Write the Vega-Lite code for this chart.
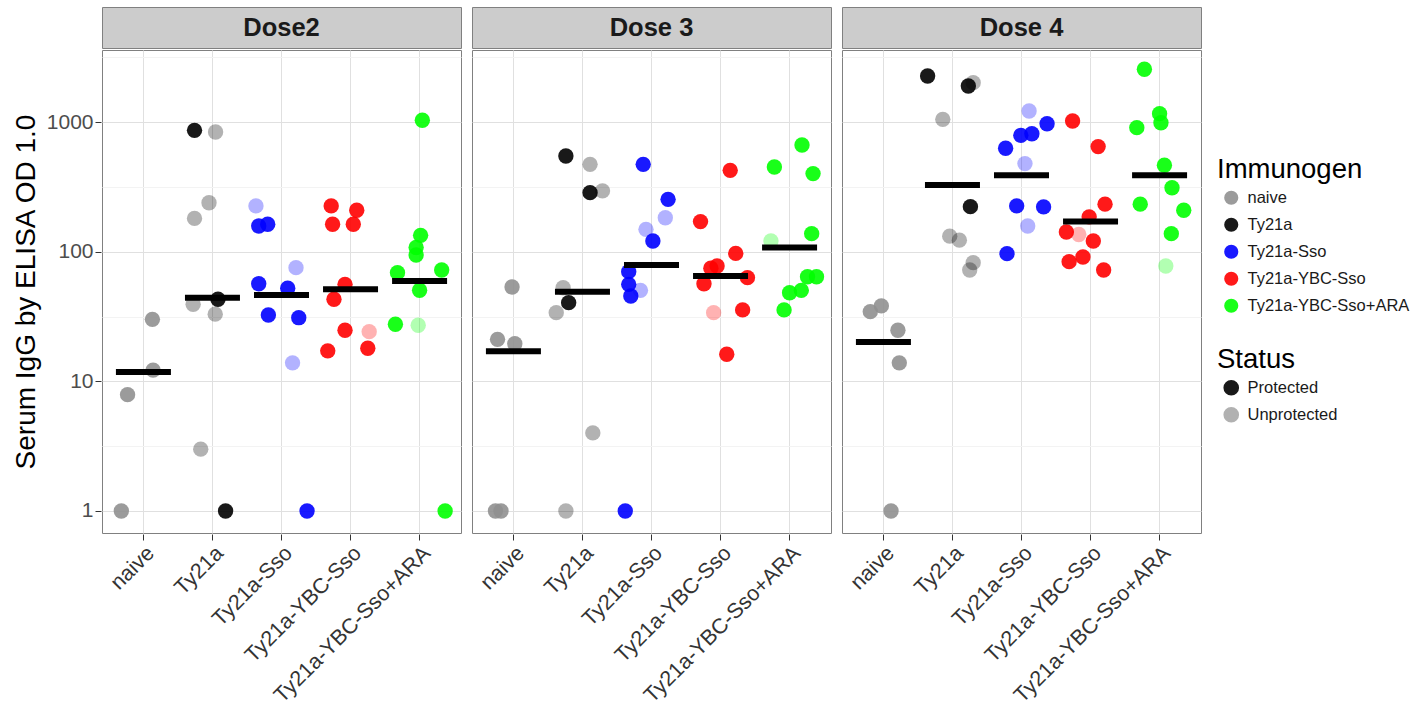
{
  "$schema": "https://vega.github.io/schema/vega-lite/v6.json",
  "background": "white",
  "padding": {"left": 12, "top": 6, "right": 5, "bottom": 2},
  "datasets": {
    "doses": [{"Dose": "Dose2"}, {"Dose": "Dose 3"}, {"Dose": "Dose 4"}],
    "points": [
      {"Dose": "Dose2", "Immunogen": "naive", "Status": "Unprotected", "IgG": 30.1, "jitter": 0.13, "Kind": "mouse"},
      {"Dose": "Dose2", "Immunogen": "naive", "Status": "Unprotected", "IgG": 12.2, "jitter": 0.14, "Kind": "mouse"},
      {"Dose": "Dose2", "Immunogen": "naive", "Status": "Unprotected", "IgG": 7.9, "jitter": -0.23, "Kind": "mouse"},
      {"Dose": "Dose2", "Immunogen": "naive", "Status": "Unprotected", "IgG": 1, "jitter": -0.32, "Kind": "mouse"},
      {"Dose": "Dose2", "Immunogen": "Ty21a", "Status": "Protected", "IgG": 865, "jitter": -0.26, "Kind": "mouse"},
      {"Dose": "Dose2", "Immunogen": "Ty21a", "Status": "Unprotected", "IgG": 840, "jitter": 0.045, "Kind": "mouse"},
      {"Dose": "Dose2", "Immunogen": "Ty21a", "Status": "Unprotected", "IgG": 239, "jitter": -0.05, "Kind": "mouse"},
      {"Dose": "Dose2", "Immunogen": "Ty21a", "Status": "Unprotected", "IgG": 181, "jitter": -0.26, "Kind": "mouse"},
      {"Dose": "Dose2", "Immunogen": "Ty21a", "Status": "Protected", "IgG": 43, "jitter": 0.08, "Kind": "mouse"},
      {"Dose": "Dose2", "Immunogen": "Ty21a", "Status": "Unprotected", "IgG": 39.4, "jitter": -0.28, "Kind": "mouse"},
      {"Dose": "Dose2", "Immunogen": "Ty21a", "Status": "Unprotected", "IgG": 33, "jitter": 0.04, "Kind": "mouse"},
      {"Dose": "Dose2", "Immunogen": "Ty21a", "Status": "Unprotected", "IgG": 3.0, "jitter": -0.17, "Kind": "mouse"},
      {"Dose": "Dose2", "Immunogen": "Ty21a", "Status": "Protected", "IgG": 1, "jitter": 0.19, "Kind": "mouse"},
      {"Dose": "Dose2", "Immunogen": "Ty21a-Sso", "Status": "Unprotected", "IgG": 226, "jitter": -0.37, "Kind": "mouse"},
      {"Dose": "Dose2", "Immunogen": "Ty21a-Sso", "Status": "Protected", "IgG": 158, "jitter": -0.33, "Kind": "mouse"},
      {"Dose": "Dose2", "Immunogen": "Ty21a-Sso", "Status": "Protected", "IgG": 163, "jitter": -0.2, "Kind": "mouse"},
      {"Dose": "Dose2", "Immunogen": "Ty21a-Sso", "Status": "Unprotected", "IgG": 75.4, "jitter": 0.21, "Kind": "mouse"},
      {"Dose": "Dose2", "Immunogen": "Ty21a-Sso", "Status": "Protected", "IgG": 56.7, "jitter": -0.33, "Kind": "mouse"},
      {"Dose": "Dose2", "Immunogen": "Ty21a-Sso", "Status": "Protected", "IgG": 52.3, "jitter": 0.09, "Kind": "mouse"},
      {"Dose": "Dose2", "Immunogen": "Ty21a-Sso", "Status": "Protected", "IgG": 32.5, "jitter": -0.19, "Kind": "mouse"},
      {"Dose": "Dose2", "Immunogen": "Ty21a-Sso", "Status": "Protected", "IgG": 31, "jitter": 0.25, "Kind": "mouse"},
      {"Dose": "Dose2", "Immunogen": "Ty21a-Sso", "Status": "Unprotected", "IgG": 13.9, "jitter": 0.16, "Kind": "mouse"},
      {"Dose": "Dose2", "Immunogen": "Ty21a-Sso", "Status": "Protected", "IgG": 1, "jitter": 0.37, "Kind": "mouse"},
      {"Dose": "Dose2", "Immunogen": "Ty21a-YBC-Sso", "Status": "Protected", "IgG": 226, "jitter": -0.28, "Kind": "mouse"},
      {"Dose": "Dose2", "Immunogen": "Ty21a-YBC-Sso", "Status": "Protected", "IgG": 209, "jitter": 0.09, "Kind": "mouse"},
      {"Dose": "Dose2", "Immunogen": "Ty21a-YBC-Sso", "Status": "Protected", "IgG": 163, "jitter": -0.26, "Kind": "mouse"},
      {"Dose": "Dose2", "Immunogen": "Ty21a-YBC-Sso", "Status": "Protected", "IgG": 163, "jitter": 0.04, "Kind": "mouse"},
      {"Dose": "Dose2", "Immunogen": "Ty21a-YBC-Sso", "Status": "Protected", "IgG": 56.1, "jitter": -0.08, "Kind": "mouse"},
      {"Dose": "Dose2", "Immunogen": "Ty21a-YBC-Sso", "Status": "Protected", "IgG": 43, "jitter": -0.24, "Kind": "mouse"},
      {"Dose": "Dose2", "Immunogen": "Ty21a-YBC-Sso", "Status": "Protected", "IgG": 24.8, "jitter": -0.08, "Kind": "mouse"},
      {"Dose": "Dose2", "Immunogen": "Ty21a-YBC-Sso", "Status": "Unprotected", "IgG": 24.2, "jitter": 0.27, "Kind": "mouse"},
      {"Dose": "Dose2", "Immunogen": "Ty21a-YBC-Sso", "Status": "Protected", "IgG": 17.2, "jitter": -0.33, "Kind": "mouse"},
      {"Dose": "Dose2", "Immunogen": "Ty21a-YBC-Sso", "Status": "Protected", "IgG": 18, "jitter": 0.25, "Kind": "mouse"},
      {"Dose": "Dose2", "Immunogen": "Ty21a-YBC-Sso+ARA", "Status": "Protected", "IgG": 1035, "jitter": 0.04, "Kind": "mouse"},
      {"Dose": "Dose2", "Immunogen": "Ty21a-YBC-Sso+ARA", "Status": "Protected", "IgG": 134, "jitter": 0.015, "Kind": "mouse"},
      {"Dose": "Dose2", "Immunogen": "Ty21a-YBC-Sso+ARA", "Status": "Protected", "IgG": 108, "jitter": -0.05, "Kind": "mouse"},
      {"Dose": "Dose2", "Immunogen": "Ty21a-YBC-Sso+ARA", "Status": "Protected", "IgG": 94.5, "jitter": -0.05, "Kind": "mouse"},
      {"Dose": "Dose2", "Immunogen": "Ty21a-YBC-Sso+ARA", "Status": "Protected", "IgG": 69, "jitter": -0.32, "Kind": "mouse"},
      {"Dose": "Dose2", "Immunogen": "Ty21a-YBC-Sso+ARA", "Status": "Protected", "IgG": 72.4, "jitter": 0.32, "Kind": "mouse"},
      {"Dose": "Dose2", "Immunogen": "Ty21a-YBC-Sso+ARA", "Status": "Protected", "IgG": 50.5, "jitter": 0, "Kind": "mouse"},
      {"Dose": "Dose2", "Immunogen": "Ty21a-YBC-Sso+ARA", "Status": "Protected", "IgG": 27.6, "jitter": -0.35, "Kind": "mouse"},
      {"Dose": "Dose2", "Immunogen": "Ty21a-YBC-Sso+ARA", "Status": "Unprotected", "IgG": 27.1, "jitter": -0.02, "Kind": "mouse"},
      {"Dose": "Dose2", "Immunogen": "Ty21a-YBC-Sso+ARA", "Status": "Protected", "IgG": 1, "jitter": 0.37, "Kind": "mouse"},
      {"Dose": "Dose 3", "Immunogen": "naive", "Status": "Unprotected", "IgG": 53.5, "jitter": -0.02, "Kind": "mouse"},
      {"Dose": "Dose 3", "Immunogen": "naive", "Status": "Unprotected", "IgG": 21.1, "jitter": -0.23, "Kind": "mouse"},
      {"Dose": "Dose 3", "Immunogen": "naive", "Status": "Unprotected", "IgG": 19.5, "jitter": 0.02, "Kind": "mouse"},
      {"Dose": "Dose 3", "Immunogen": "naive", "Status": "Unprotected", "IgG": 1, "jitter": -0.26, "Kind": "mouse"},
      {"Dose": "Dose 3", "Immunogen": "naive", "Status": "Unprotected", "IgG": 1, "jitter": -0.18, "Kind": "mouse"},
      {"Dose": "Dose 3", "Immunogen": "Ty21a", "Status": "Protected", "IgG": 548, "jitter": -0.24, "Kind": "mouse"},
      {"Dose": "Dose 3", "Immunogen": "Ty21a", "Status": "Unprotected", "IgG": 473, "jitter": 0.11, "Kind": "mouse"},
      {"Dose": "Dose 3", "Immunogen": "Ty21a", "Status": "Unprotected", "IgG": 295, "jitter": 0.29, "Kind": "mouse"},
      {"Dose": "Dose 3", "Immunogen": "Ty21a", "Status": "Protected", "IgG": 286, "jitter": 0.11, "Kind": "mouse"},
      {"Dose": "Dose 3", "Immunogen": "Ty21a", "Status": "Unprotected", "IgG": 52.8, "jitter": -0.28, "Kind": "mouse"},
      {"Dose": "Dose 3", "Immunogen": "Ty21a", "Status": "Protected", "IgG": 40.5, "jitter": -0.2, "Kind": "mouse"},
      {"Dose": "Dose 3", "Immunogen": "Ty21a", "Status": "Unprotected", "IgG": 33.9, "jitter": -0.38, "Kind": "mouse"},
      {"Dose": "Dose 3", "Immunogen": "Ty21a", "Status": "Unprotected", "IgG": 4.0, "jitter": 0.15, "Kind": "mouse"},
      {"Dose": "Dose 3", "Immunogen": "Ty21a", "Status": "Unprotected", "IgG": 1, "jitter": -0.24, "Kind": "mouse"},
      {"Dose": "Dose 3", "Immunogen": "Ty21a-Sso", "Status": "Protected", "IgG": 473, "jitter": -0.12, "Kind": "mouse"},
      {"Dose": "Dose 3", "Immunogen": "Ty21a-Sso", "Status": "Protected", "IgG": 254, "jitter": 0.24, "Kind": "mouse"},
      {"Dose": "Dose 3", "Immunogen": "Ty21a-Sso", "Status": "Unprotected", "IgG": 183, "jitter": 0.2, "Kind": "mouse"},
      {"Dose": "Dose 3", "Immunogen": "Ty21a-Sso", "Status": "Unprotected", "IgG": 149, "jitter": -0.08, "Kind": "mouse"},
      {"Dose": "Dose 3", "Immunogen": "Ty21a-Sso", "Status": "Protected", "IgG": 121, "jitter": 0.02, "Kind": "mouse"},
      {"Dose": "Dose 3", "Immunogen": "Ty21a-Sso", "Status": "Protected", "IgG": 70.2, "jitter": -0.33, "Kind": "mouse"},
      {"Dose": "Dose 3", "Immunogen": "Ty21a-Sso", "Status": "Protected", "IgG": 56.1, "jitter": -0.33, "Kind": "mouse"},
      {"Dose": "Dose 3", "Immunogen": "Ty21a-Sso", "Status": "Unprotected", "IgG": 50.4, "jitter": -0.16, "Kind": "mouse"},
      {"Dose": "Dose 3", "Immunogen": "Ty21a-Sso", "Status": "Protected", "IgG": 45.6, "jitter": -0.3, "Kind": "mouse"},
      {"Dose": "Dose 3", "Immunogen": "Ty21a-Sso", "Status": "Protected", "IgG": 1, "jitter": -0.38, "Kind": "mouse"},
      {"Dose": "Dose 3", "Immunogen": "Ty21a-YBC-Sso", "Status": "Protected", "IgG": 425, "jitter": 0.14, "Kind": "mouse"},
      {"Dose": "Dose 3", "Immunogen": "Ty21a-YBC-Sso", "Status": "Protected", "IgG": 171, "jitter": -0.29, "Kind": "mouse"},
      {"Dose": "Dose 3", "Immunogen": "Ty21a-YBC-Sso", "Status": "Protected", "IgG": 97.3, "jitter": 0.22, "Kind": "mouse"},
      {"Dose": "Dose 3", "Immunogen": "Ty21a-YBC-Sso", "Status": "Protected", "IgG": 77.6, "jitter": -0.05, "Kind": "mouse"},
      {"Dose": "Dose 3", "Immunogen": "Ty21a-YBC-Sso", "Status": "Protected", "IgG": 74.6, "jitter": -0.14, "Kind": "mouse"},
      {"Dose": "Dose 3", "Immunogen": "Ty21a-YBC-Sso", "Status": "Protected", "IgG": 63.1, "jitter": 0.39, "Kind": "mouse"},
      {"Dose": "Dose 3", "Immunogen": "Ty21a-YBC-Sso", "Status": "Protected", "IgG": 56.7, "jitter": -0.24, "Kind": "mouse"},
      {"Dose": "Dose 3", "Immunogen": "Ty21a-YBC-Sso", "Status": "Unprotected", "IgG": 33.9, "jitter": -0.1, "Kind": "mouse"},
      {"Dose": "Dose 3", "Immunogen": "Ty21a-YBC-Sso", "Status": "Protected", "IgG": 35.6, "jitter": 0.32, "Kind": "mouse"},
      {"Dose": "Dose 3", "Immunogen": "Ty21a-YBC-Sso", "Status": "Protected", "IgG": 16.2, "jitter": 0.09, "Kind": "mouse"},
      {"Dose": "Dose 3", "Immunogen": "Ty21a-YBC-Sso+ARA", "Status": "Protected", "IgG": 667, "jitter": 0.18, "Kind": "mouse"},
      {"Dose": "Dose 3", "Immunogen": "Ty21a-YBC-Sso+ARA", "Status": "Protected", "IgG": 451, "jitter": -0.22, "Kind": "mouse"},
      {"Dose": "Dose 3", "Immunogen": "Ty21a-YBC-Sso+ARA", "Status": "Protected", "IgG": 401, "jitter": 0.34, "Kind": "mouse"},
      {"Dose": "Dose 3", "Immunogen": "Ty21a-YBC-Sso+ARA", "Status": "Protected", "IgG": 138, "jitter": 0.32, "Kind": "mouse"},
      {"Dose": "Dose 3", "Immunogen": "Ty21a-YBC-Sso+ARA", "Status": "Unprotected", "IgG": 121, "jitter": -0.27, "Kind": "mouse"},
      {"Dose": "Dose 3", "Immunogen": "Ty21a-YBC-Sso+ARA", "Status": "Protected", "IgG": 64.2, "jitter": 0.26, "Kind": "mouse"},
      {"Dose": "Dose 3", "Immunogen": "Ty21a-YBC-Sso+ARA", "Status": "Protected", "IgG": 64.2, "jitter": 0.39, "Kind": "mouse"},
      {"Dose": "Dose 3", "Immunogen": "Ty21a-YBC-Sso+ARA", "Status": "Protected", "IgG": 50.4, "jitter": 0.17, "Kind": "mouse"},
      {"Dose": "Dose 3", "Immunogen": "Ty21a-YBC-Sso+ARA", "Status": "Protected", "IgG": 48.3, "jitter": 0, "Kind": "mouse"},
      {"Dose": "Dose 3", "Immunogen": "Ty21a-YBC-Sso+ARA", "Status": "Protected", "IgG": 35.6, "jitter": -0.08, "Kind": "mouse"},
      {"Dose": "Dose 4", "Immunogen": "naive", "Status": "Unprotected", "IgG": 38.2, "jitter": -0.03, "Kind": "mouse"},
      {"Dose": "Dose 4", "Immunogen": "naive", "Status": "Unprotected", "IgG": 34.5, "jitter": -0.19, "Kind": "mouse"},
      {"Dose": "Dose 4", "Immunogen": "naive", "Status": "Unprotected", "IgG": 24.8, "jitter": 0.21, "Kind": "mouse"},
      {"Dose": "Dose 4", "Immunogen": "naive", "Status": "Unprotected", "IgG": 13.9, "jitter": 0.23, "Kind": "mouse"},
      {"Dose": "Dose 4", "Immunogen": "naive", "Status": "Unprotected", "IgG": 1, "jitter": 0.11, "Kind": "mouse"},
      {"Dose": "Dose 4", "Immunogen": "Ty21a", "Status": "Protected", "IgG": 2271, "jitter": -0.36, "Kind": "mouse"},
      {"Dose": "Dose 4", "Immunogen": "Ty21a", "Status": "Unprotected", "IgG": 2018, "jitter": 0.3, "Kind": "mouse"},
      {"Dose": "Dose 4", "Immunogen": "Ty21a", "Status": "Protected", "IgG": 1902, "jitter": 0.23, "Kind": "mouse"},
      {"Dose": "Dose 4", "Immunogen": "Ty21a", "Status": "Unprotected", "IgG": 1052, "jitter": -0.14, "Kind": "mouse"},
      {"Dose": "Dose 4", "Immunogen": "Ty21a", "Status": "Protected", "IgG": 223, "jitter": 0.26, "Kind": "mouse"},
      {"Dose": "Dose 4", "Immunogen": "Ty21a", "Status": "Unprotected", "IgG": 132, "jitter": -0.04, "Kind": "mouse"},
      {"Dose": "Dose 4", "Immunogen": "Ty21a", "Status": "Unprotected", "IgG": 123, "jitter": 0.1, "Kind": "mouse"},
      {"Dose": "Dose 4", "Immunogen": "Ty21a", "Status": "Unprotected", "IgG": 82.4, "jitter": 0.3, "Kind": "mouse"},
      {"Dose": "Dose 4", "Immunogen": "Ty21a", "Status": "Unprotected", "IgG": 72.4, "jitter": 0.25, "Kind": "mouse"},
      {"Dose": "Dose 4", "Immunogen": "Ty21a-Sso", "Status": "Unprotected", "IgG": 1219, "jitter": 0.11, "Kind": "mouse"},
      {"Dose": "Dose 4", "Immunogen": "Ty21a-Sso", "Status": "Protected", "IgG": 973, "jitter": 0.37, "Kind": "mouse"},
      {"Dose": "Dose 4", "Immunogen": "Ty21a-Sso", "Status": "Protected", "IgG": 815, "jitter": 0.15, "Kind": "mouse"},
      {"Dose": "Dose 4", "Immunogen": "Ty21a-Sso", "Status": "Protected", "IgG": 792, "jitter": -0.01, "Kind": "mouse"},
      {"Dose": "Dose 4", "Immunogen": "Ty21a-Sso", "Status": "Protected", "IgG": 629, "jitter": -0.23, "Kind": "mouse"},
      {"Dose": "Dose 4", "Immunogen": "Ty21a-Sso", "Status": "Unprotected", "IgG": 479, "jitter": 0.05, "Kind": "mouse"},
      {"Dose": "Dose 4", "Immunogen": "Ty21a-Sso", "Status": "Protected", "IgG": 226, "jitter": -0.07, "Kind": "mouse"},
      {"Dose": "Dose 4", "Immunogen": "Ty21a-Sso", "Status": "Protected", "IgG": 222, "jitter": 0.32, "Kind": "mouse"},
      {"Dose": "Dose 4", "Immunogen": "Ty21a-Sso", "Status": "Unprotected", "IgG": 158, "jitter": 0.09, "Kind": "mouse"},
      {"Dose": "Dose 4", "Immunogen": "Ty21a-Sso", "Status": "Protected", "IgG": 96.7, "jitter": -0.21, "Kind": "mouse"},
      {"Dose": "Dose 4", "Immunogen": "Ty21a-YBC-Sso", "Status": "Protected", "IgG": 1022, "jitter": -0.26, "Kind": "mouse"},
      {"Dose": "Dose 4", "Immunogen": "Ty21a-YBC-Sso", "Status": "Protected", "IgG": 648, "jitter": 0.11, "Kind": "mouse"},
      {"Dose": "Dose 4", "Immunogen": "Ty21a-YBC-Sso", "Status": "Protected", "IgG": 233, "jitter": 0.21, "Kind": "mouse"},
      {"Dose": "Dose 4", "Immunogen": "Ty21a-YBC-Sso", "Status": "Protected", "IgG": 186, "jitter": -0.02, "Kind": "mouse"},
      {"Dose": "Dose 4", "Immunogen": "Ty21a-YBC-Sso", "Status": "Protected", "IgG": 142, "jitter": -0.35, "Kind": "mouse"},
      {"Dose": "Dose 4", "Immunogen": "Ty21a-YBC-Sso", "Status": "Unprotected", "IgG": 136, "jitter": -0.17, "Kind": "mouse"},
      {"Dose": "Dose 4", "Immunogen": "Ty21a-YBC-Sso", "Status": "Protected", "IgG": 121, "jitter": 0.04, "Kind": "mouse"},
      {"Dose": "Dose 4", "Immunogen": "Ty21a-YBC-Sso", "Status": "Protected", "IgG": 91.2, "jitter": -0.11, "Kind": "mouse"},
      {"Dose": "Dose 4", "Immunogen": "Ty21a-YBC-Sso", "Status": "Protected", "IgG": 83.9, "jitter": -0.31, "Kind": "mouse"},
      {"Dose": "Dose 4", "Immunogen": "Ty21a-YBC-Sso", "Status": "Protected", "IgG": 72.4, "jitter": 0.19, "Kind": "mouse"},
      {"Dose": "Dose 4", "Immunogen": "Ty21a-YBC-Sso+ARA", "Status": "Protected", "IgG": 2560, "jitter": -0.22, "Kind": "mouse"},
      {"Dose": "Dose 4", "Immunogen": "Ty21a-YBC-Sso+ARA", "Status": "Protected", "IgG": 1164, "jitter": 0, "Kind": "mouse"},
      {"Dose": "Dose 4", "Immunogen": "Ty21a-YBC-Sso+ARA", "Status": "Protected", "IgG": 991, "jitter": 0.02, "Kind": "mouse"},
      {"Dose": "Dose 4", "Immunogen": "Ty21a-YBC-Sso+ARA", "Status": "Protected", "IgG": 907, "jitter": -0.33, "Kind": "mouse"},
      {"Dose": "Dose 4", "Immunogen": "Ty21a-YBC-Sso+ARA", "Status": "Protected", "IgG": 465, "jitter": 0.07, "Kind": "mouse"},
      {"Dose": "Dose 4", "Immunogen": "Ty21a-YBC-Sso+ARA", "Status": "Protected", "IgG": 312, "jitter": 0.18, "Kind": "mouse"},
      {"Dose": "Dose 4", "Immunogen": "Ty21a-YBC-Sso+ARA", "Status": "Protected", "IgG": 233, "jitter": -0.28, "Kind": "mouse"},
      {"Dose": "Dose 4", "Immunogen": "Ty21a-YBC-Sso+ARA", "Status": "Protected", "IgG": 209, "jitter": 0.35, "Kind": "mouse"},
      {"Dose": "Dose 4", "Immunogen": "Ty21a-YBC-Sso+ARA", "Status": "Protected", "IgG": 138, "jitter": 0.17, "Kind": "mouse"},
      {"Dose": "Dose 4", "Immunogen": "Ty21a-YBC-Sso+ARA", "Status": "Unprotected", "IgG": 77.6, "jitter": 0.09, "Kind": "mouse"},
      {"Dose": "Dose2", "Immunogen": "naive", "IgG": 11.8, "Kind": "mean"},
      {"Dose": "Dose2", "Immunogen": "Ty21a", "IgG": 44.2, "Kind": "mean"},
      {"Dose": "Dose2", "Immunogen": "Ty21a-Sso", "IgG": 46.4, "Kind": "mean"},
      {"Dose": "Dose2", "Immunogen": "Ty21a-YBC-Sso", "IgG": 51.4, "Kind": "mean"},
      {"Dose": "Dose2", "Immunogen": "Ty21a-YBC-Sso+ARA", "IgG": 59.5, "Kind": "mean"},
      {"Dose": "Dose 3", "Immunogen": "naive", "IgG": 17.1, "Kind": "mean"},
      {"Dose": "Dose 3", "Immunogen": "Ty21a", "IgG": 49.2, "Kind": "mean"},
      {"Dose": "Dose 3", "Immunogen": "Ty21a-Sso", "IgG": 79.1, "Kind": "mean"},
      {"Dose": "Dose 3", "Immunogen": "Ty21a-YBC-Sso", "IgG": 65.1, "Kind": "mean"},
      {"Dose": "Dose 3", "Immunogen": "Ty21a-YBC-Sso+ARA", "IgG": 108, "Kind": "mean"},
      {"Dose": "Dose 4", "Immunogen": "naive", "IgG": 20.1, "Kind": "mean"},
      {"Dose": "Dose 4", "Immunogen": "Ty21a", "IgG": 328, "Kind": "mean"},
      {"Dose": "Dose 4", "Immunogen": "Ty21a-Sso", "IgG": 389, "Kind": "mean"},
      {"Dose": "Dose 4", "Immunogen": "Ty21a-YBC-Sso", "IgG": 171, "Kind": "mean"},
      {"Dose": "Dose 4", "Immunogen": "Ty21a-YBC-Sso+ARA", "IgG": 389, "Kind": "mean"}
    ]
  },
  "vconcat": [
    {
      "data": {"name": "doses"},
      "facet": {"column": {"field": "Dose", "type": "nominal", "sort": ["Dose2", "Dose 3", "Dose 4"], "header": {"title": null, "labels": false}}},
      "spacing": 9,
      "spec": {
        "width": 359,
        "height": 41,
        "view": {"fill": "#cccccc", "stroke": "#808080", "strokeWidth": 1},
        "mark": {"type": "text", "font": "Liberation Sans", "fontSize": 25.5, "fontWeight": "bold", "color": "#1a1a1a", "baseline": "middle", "align": "center"},
        "encoding": {
          "text": {"field": "Dose", "type": "nominal"},
          "y": {
            "datum": 1, "type": "quantitative",
            "scale": {"domain": [0, 2]},
            "axis": {
              "title": "S", "titleFontSize": 28, "titleFontWeight": "normal", "titleColor": "transparent", "titlePadding": 6,
              "values": [1], "labelExpr": "'1000'", "labelFontSize": 21, "labelColor": "transparent", "labelPadding": 2,
              "tickSize": 6, "tickColor": "transparent", "grid": false
            }
          }
        }
      }
    },
    {
      "data": {"name": "points"},
      "facet": {"column": {"field": "Dose", "type": "nominal", "sort": ["Dose2", "Dose 3", "Dose 4"], "header": {"title": null, "labels": false}}},
      "spacing": 9,
      "spec": {
        "width": 359,
        "height": 483,
        "view": {"stroke": "#808080", "strokeWidth": 1},
        "layer": [
          {
            "transform": [{"filter": "datum.Kind === 'mouse'"}],
            "mark": {"type": "circle", "size": 236},
            "encoding": {
              "x": {
                "field": "Immunogen", "type": "nominal",
                "sort": ["naive", "Ty21a", "Ty21a-Sso", "Ty21a-YBC-Sso", "Ty21a-YBC-Sso+ARA"],
                "scale": {"paddingInner": 0, "paddingOuter": 0.1},
                "axis": {"title": null, "labelAngle": -45, "labelAlign": "right", "labelBaseline": "top", "bandPosition": 0.5, "labelFontSize": 21.5, "labelColor": "#333333", "labelLimit": 400, "tickColor": "#333333", "tickSize": 6, "labelPadding": 2, "grid": true, "gridColor": "#e0e0e0"}
              },
              "xOffset": {"field": "jitter", "type": "quantitative", "scale": {"domain": [-0.5, 0.5]}},
              "y": {
                "field": "IgG", "type": "quantitative",
                "scale": {"type": "log", "domain": [0.676, 3606], "nice": false},
                "axis": {
                  "title": "Serum IgG by ELISA OD 1.0",
                  "titleFontSize": 28, "titleFontWeight": "normal", "titleColor": "#000000", "titlePadding": 6,
                  "values": [1, 3.16228, 10, 31.6228, 100, 316.228, 1000, 3162.28],
                  "labelExpr": "(datum.value == 1 || datum.value == 10 || datum.value == 100 || datum.value == 1000) ? '' + datum.value : ''",
                  "labelFontSize": 21, "labelColor": "#4d4d4d", "labelPadding": 2,
                  "tickSize": 6,
                  "tickColor": {"condition": {"test": "datum.value == 1 || datum.value == 10 || datum.value == 100 || datum.value == 1000", "value": "#333333"}, "value": "transparent"},
                  "gridColor": {"condition": {"test": "datum.value == 1 || datum.value == 10 || datum.value == 100 || datum.value == 1000", "value": "#e0e0e0"}, "value": "#f3f3f3"}
                }
              },
              "color": {
                "field": "Immunogen", "type": "nominal",
                "scale": {"domain": ["naive", "Ty21a", "Ty21a-Sso", "Ty21a-YBC-Sso", "Ty21a-YBC-Sso+ARA"], "range": ["#909090", "#000000", "#0000ff", "#ff0000", "#00ff00"]},
                "legend": {"title": "Immunogen", "orient": "none", "legendX": 1115, "legendY": 149, "symbolOpacity": 0.9}
              },
              "opacity": {
                "condition": {"test": "datum.Immunogen === 'naive'", "value": 0.9},
                "field": "Status", "type": "nominal",
                "scale": {"domain": ["Protected", "Unprotected"], "range": [0.9, 0.3]},
                "legend": {"title": "Status", "orient": "none", "legendX": 1115, "legendY": 339, "rowPadding": 6, "symbolFillColor": "#000000", "symbolStrokeColor": "#000000"}
              }
            }
          },
          {
            "transform": [{"filter": "datum.Kind === 'mean'"}],
            "mark": {"type": "tick", "color": "#000000", "size": 55, "thickness": 6, "opacity": 1},
            "encoding": {
              "x": {"field": "Immunogen", "type": "nominal", "sort": ["naive", "Ty21a", "Ty21a-Sso", "Ty21a-YBC-Sso", "Ty21a-YBC-Sso+ARA"]},
              "y": {"field": "IgG", "type": "quantitative"}
            }
          }
        ]
      }
    }
  ],
  "spacing": 0,
  "config": {
    "font": "Liberation Sans",
    "axis": {"domain": false, "labelFont": "Liberation Sans", "titleFont": "Liberation Sans"},
    "legend": {
      "titleFontSize": 27.5, "titleFontWeight": "normal", "titleColor": "#000000", "titleFont": "Liberation Sans", "titlePadding": 6,
      "labelFontSize": 16.5, "labelColor": "#1a1a1a", "labelFont": "Liberation Sans", "labelLimit": 400,
      "symbolSize": 200, "symbolType": "circle", "rowPadding": 10, "symbolOffset": 6, "labelOffset": 8
    }
  }
}
